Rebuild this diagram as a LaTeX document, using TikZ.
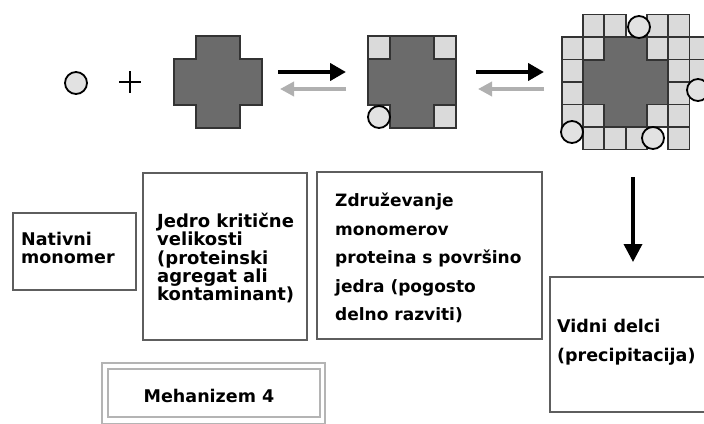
\documentclass[tikz,border=0pt]{standalone}
\usepackage{fontspec}
\setmainfont{DejaVu Sans}
\usetikzlibrary{arrows.meta}
\definecolor{darkfill}{HTML}{6B6B6B}
\definecolor{edgecol}{HTML}{333333}
\definecolor{lightfill}{HTML}{DADADA}
\definecolor{monofill}{HTML}{E2E2E2}
\definecolor{boxcol}{HTML}{5E5E5E}
\definecolor{mehcol}{HTML}{B4B4B4}
\definecolor{backcol}{HTML}{B0B0B0}
\tikzset{
  darkcross/.style={fill=darkfill, draw=edgecol, line width=2pt, line join=miter},
  lightsq/.style={fill=lightfill, draw=edgecol, line width=1.8pt},
  monocirc/.style={fill=monofill, draw=black, line width=1.8pt},
  boxframe/.style={draw=boxcol, line width=2pt},
  mehframe/.style={draw=mehcol, line width=1.8pt},
  lbl/.style={anchor=north west, inner sep=0, align=left, font=\bfseries\fontsize{17.5}{18.3}\selectfont},
  lbljed/.style={anchor=north west, inner sep=0, align=left, font=\bfseries\fontsize{18}{18.3}\selectfont},
  lblwide/.style={anchor=north west, inner sep=0, align=left, font=\bfseries\fontsize{17}{28.5}\selectfont},
  lblvid/.style={anchor=north west, inner sep=0, align=left, font=\bfseries\fontsize{17.5}{28.5}\selectfont},
  fwd/.style={draw=black, line width=4.5pt, -{Triangle[length=16pt,width=17pt]}},
  bwd/.style={draw=backcol, line width=4pt, -{Triangle[length=14pt,width=14pt]}},
  down/.style={draw=black, line width=3.5pt, -{Triangle[length=18pt,width=18pt]}}
}
\newcommand{\crosspath}{(1,0) -- (3,0) -- (3,1) -- (4,1) -- (4,3) -- (3,3) -- (3,4) -- (1,4) -- (1,3) -- (0,3) -- (0,1) -- (1,1) -- cycle}
\begin{document}
\begin{tikzpicture}[x=1pt,y=-1pt]
\useasboundingbox (0,0) rectangle (704,423);
\clip (0,0) rectangle (704,423);
\fill[white] (0,0) rectangle (704,423);

% monomer and plus
\draw[monocirc] (76,83) circle[radius=11pt];
\draw[line width=2.4pt] (119,82) -- (141,82) (130,71) -- (130,93);

% cross 1 (critical nucleus)
\begin{scope}[shift={(174,36)}, x=22pt, y=-23pt]
  \draw[darkcross] \crosspath;
\end{scope}

% cross 2
\begin{scope}[shift={(368,36)}, x=22pt, y=-23pt]
  \draw[darkcross] \crosspath;
  \foreach \c/\r in {0/0,3/0,3/3} \draw[lightsq] (\c,\r) rectangle ++(1,1);
\end{scope}
\draw[monocirc] (379,117) circle[radius=11pt];

% cross 3 (aggregate)
\begin{scope}[shift={(583,37)}, x=21.3pt, y=-22.5pt]
  \draw[darkcross] \crosspath;
  \foreach \c/\r in {0/-1,1/-1,3/-1,4/-1,-1/0,0/0,3/0,4/0,5/0,-1/1,4/1,5/1,-1/2,4/2,-1/3,0/3,3/3,4/3,0/4,1/4,2/4,4/4}
    \draw[lightsq] (\c,\r) rectangle ++(1,1);
\end{scope}
\draw[monocirc] (639,27) circle[radius=11pt];
\draw[monocirc] (698,90) circle[radius=11pt];
\draw[monocirc] (572,132) circle[radius=11pt];
\draw[monocirc] (653,138) circle[radius=11pt];

% arrows
\coordinate (f1s) at (278,72); \coordinate (f1e) at (346,72);
\coordinate (b1s) at (346,89); \coordinate (b1e) at (280,89);
\coordinate (f2s) at (476,72); \coordinate (f2e) at (544,72);
\coordinate (b2s) at (544,89); \coordinate (b2e) at (478,89);
\coordinate (ds) at (633,177); \coordinate (de) at (633,262);
\draw[fwd] (f1s) -- (f1e);
\draw[bwd] (b1s) -- (b1e);
\draw[fwd] (f2s) -- (f2e);
\draw[bwd] (b2s) -- (b2e);
\draw[down] (ds) -- (de);

% boxes
\draw[boxframe] (13,213) rectangle (136,290);
\draw[boxframe] (143,173) rectangle (307,340);
\draw[boxframe] (317,172) rectangle (542,339);
\draw[boxframe] (550,277) rectangle (712,412);
\draw[mehframe] (102,363) rectangle (325,424);
\draw[mehframe] (108,369) rectangle (320,417);

% texts
\node[lbl] (tnat) at (21,232) {Nativni\\monomer};
\node[lbljed] (tjed) at (157,213) {Jedro kritične\\velikosti\\(proteinski\\agregat ali\\kontaminant)};
\node[lblwide] (tzdr) at (335,193) {Združevanje\\monomerov\\proteina s površino\\jedra (pogosto\\delno razviti)};
\node[lblvid] (tvid) at (557,319) {Vidni delci\\(precipitacija)};
\node[anchor=base, inner sep=0, font=\bfseries\fontsize{17.5}{20}\selectfont] (tmeh) at (209,402) {Mehanizem 4};
\end{tikzpicture}
\end{document}
